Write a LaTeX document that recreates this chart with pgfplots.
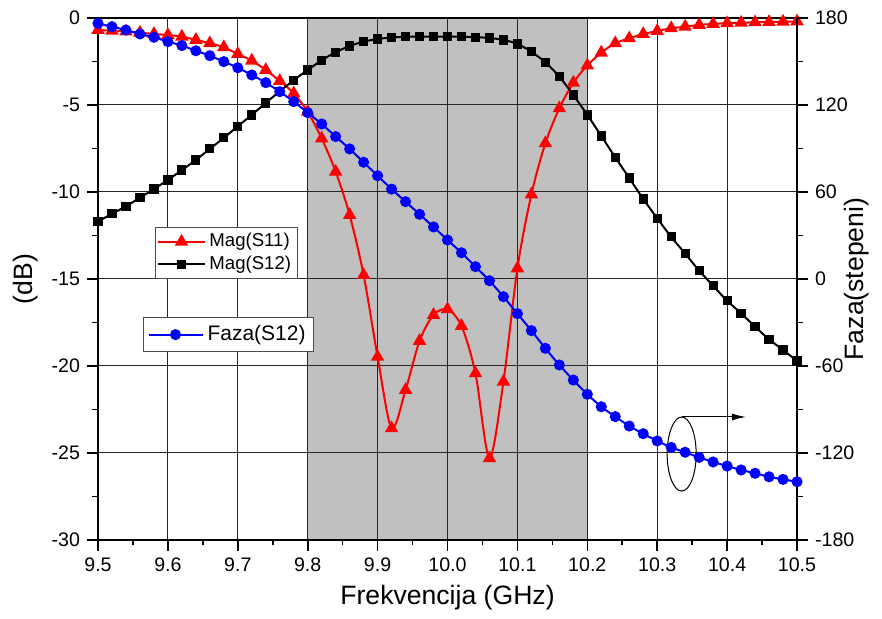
\documentclass[border=0pt]{standalone}
\usepackage{fontspec}
\setmainfont{Liberation Sans}
\usepackage{pgfplots}
\pgfplotsset{compat=1.18}
\usetikzlibrary{arrows.meta}
\definecolor{band}{RGB}{192,192,192}

\pgfplotsset{
 base/.style={
  width=349.5pt, height=261pt, scale only axis,
  xmin=9.5, xmax=10.5,
  /pgf/number format/assume math mode=true,
  tick label style={font=\fontsize{9.8}{11}\selectfont},
  label style={font=\fontsize{13.3}{15}\selectfont},
  axis line style={line width=1pt},
  tick style={line width=0.8pt, black},
  tick align=outside,
  major tick length=5.5pt, minor tick length=2.75pt,
 },
 myleg/.style={legend image code/.code={\draw[mark repeat=2,mark phase=2] plot coordinates {(0pt,0pt) (11.5pt,0pt) (23pt,0pt)};}},
}

\begin{document}
\begin{tikzpicture}
% shaded band
\begin{axis}[base, ymin=-30, ymax=0, hide axis]
\addplot[draw=none, fill=band] coordinates {(9.8,-30) (9.8,0) (10.2,0) (10.2,-30) (9.8,-30)};
\end{axis}

% magnitude axis
\begin{axis}[base, ymin=-30, ymax=0,
  ytick={-30,-25,-20,-15,-10,-5,0}, minor y tick num=1,
  xtick={9.5,9.6,9.7,9.8,9.9,10.0,10.1,10.2,10.3,10.4,10.5}, minor x tick num=1,
  xtick pos=bottom, ytick pos=left,
  grid=major, grid style={line width=0.5pt, black!85},
  xticklabel style={/pgf/number format/.cd, fixed, fixed zerofill, precision=1},
  xlabel={Frekvencija (GHz)}, ylabel={(dB)},
  myleg,
  legend style={at={(0.0815,0.5996)}, anchor=north west, draw=black!70, line width=0.5pt,
    font=\fontsize{9.3}{11}\selectfont, inner sep=1pt, row sep=-1pt, cells={anchor=west}},
]
\coordinate (ll) at (rel axis cs:0,0);
\coordinate (ur) at (rel axis cs:1,1);
\addplot[red, line width=1pt, smooth, mark=triangle*, mark size=2.9pt, mark options={solid}] coordinates {
(9.50,-0.69) (9.52,-0.73) (9.54,-0.78) (9.56,-0.84) (9.58,-0.92) (9.60,-0.98) (9.62,-1.07) (9.64,-1.26)
(9.66,-1.45) (9.68,-1.68) (9.70,-2.07) (9.72,-2.45) (9.74,-2.99) (9.76,-3.62) (9.78,-4.33) (9.80,-5.39)
(9.82,-6.92) (9.84,-8.83) (9.86,-11.32) (9.88,-14.77) (9.90,-19.47) (9.92,-23.58) (9.94,-21.38) (9.96,-18.56)
(9.98,-17.07) (10.00,-16.74) (10.02,-17.70) (10.04,-20.42) (10.06,-25.30) (10.08,-20.90) (10.10,-14.39)
(10.12,-10.14) (10.14,-7.20) (10.16,-5.19) (10.18,-3.72) (10.20,-2.73) (10.22,-1.99) (10.24,-1.45)
(10.26,-1.17) (10.28,-0.92) (10.30,-0.75) (10.32,-0.59) (10.34,-0.50) (10.36,-0.40) (10.38,-0.34)
(10.40,-0.30) (10.42,-0.27) (10.44,-0.25) (10.46,-0.23) (10.48,-0.21) (10.50,-0.20)};
\addlegendentry{Mag(S11)}
\addplot[black, line width=1pt, smooth, mark=square*, mark size=1.8pt] coordinates {
(9.50,-11.70) (9.52,-11.25) (9.54,-10.82) (9.56,-10.33) (9.58,-9.83) (9.60,-9.31) (9.62,-8.74) (9.64,-8.16)
(9.66,-7.52) (9.68,-6.89) (9.70,-6.22) (9.72,-5.57) (9.74,-4.88) (9.76,-4.22) (9.78,-3.57) (9.80,-2.99)
(9.82,-2.43) (9.84,-1.97) (9.86,-1.61) (9.88,-1.36) (9.90,-1.21) (9.92,-1.12) (9.94,-1.08) (9.96,-1.07)
(9.98,-1.07) (10.00,-1.07) (10.02,-1.08) (10.04,-1.10) (10.06,-1.15) (10.08,-1.26) (10.10,-1.49)
(10.12,-1.94) (10.14,-2.55) (10.16,-3.37) (10.18,-4.43) (10.20,-5.57) (10.22,-6.78) (10.24,-8.01)
(10.26,-9.20) (10.28,-10.40) (10.30,-11.51) (10.32,-12.58) (10.34,-13.54) (10.36,-14.52) (10.38,-15.39)
(10.40,-16.25) (10.42,-16.97) (10.44,-17.74) (10.46,-18.47) (10.48,-19.08) (10.50,-19.71)};
\addlegendentry{Mag(S12)}
\draw[line width=0.5pt] (axis cs:10.335,-25.06) ellipse [x radius=7.25pt, y radius=18.5pt];
\draw[line width=0.5pt, -{Latex[length=7pt,width=3.5pt]}] (axis cs:10.335,-22.93) -- (axis cs:10.427,-22.93);
\end{axis}

% phase axis
\begin{axis}[base, axis y line*=right, axis x line=none,
  ymin=-180, ymax=180, ytick={-180,-120,-60,0,60,120,180}, minor y tick num=1,
  ylabel={Faza(stepeni)},
  every axis y label/.style={at={(axis description cs:1.0858,0.5)}, anchor=center, rotate=90,
    font=\fontsize{13.3}{15}\selectfont},
  legend image code/.code={\draw[mark repeat=2,mark phase=2] plot coordinates {(0pt,0pt) (13.5pt,0pt) (27pt,0pt)};},
  legend style={at={(0.0644,0.4272)}, anchor=north west, draw=black!70, line width=0.5pt,
    font=\fontsize{10.5}{12}\selectfont, inner sep=2pt, cells={anchor=west}},
]
\addplot[blue, line width=1pt, smooth, mark=*, mark size=2.25pt] coordinates {
(9.50,176.3) (9.52,174.0) (9.54,171.7) (9.56,169.0) (9.58,166.7) (9.60,163.7) (9.62,161.0) (9.64,157.4)
(9.66,154.0) (9.68,149.9) (9.70,145.7) (9.72,140.7) (9.74,135.4) (9.76,129.2) (9.78,122.3) (9.80,114.7)
(9.82,106.9) (9.84,98.2) (9.86,89.7) (9.88,80.5) (9.90,71.2) (9.92,62.0) (9.94,53.3) (9.96,44.6)
(9.98,35.9) (10.00,26.9) (10.02,18.1) (10.04,8.5) (10.06,-1.2) (10.08,-12.2) (10.10,-23.9)
(10.12,-35.6) (10.14,-47.8) (10.16,-59.3) (10.18,-69.7) (10.20,-79.5) (10.22,-88.1) (10.24,-94.9)
(10.26,-101.4) (10.28,-106.7) (10.30,-111.7) (10.32,-116.1) (10.34,-119.5) (10.36,-123.0) (10.38,-126.2)
(10.40,-129.0) (10.42,-131.7) (10.44,-134.0) (10.46,-136.4) (10.48,-138.2) (10.50,-139.8)};
\addlegendentry{Faza(S12)}
\end{axis}
\pgfresetboundingbox
\path[use as bounding box] ([xshift=-49pt,yshift=-39.5pt]ll) rectangle ([xshift=42.5pt,yshift=9pt]ur);
\end{tikzpicture}
\end{document}
